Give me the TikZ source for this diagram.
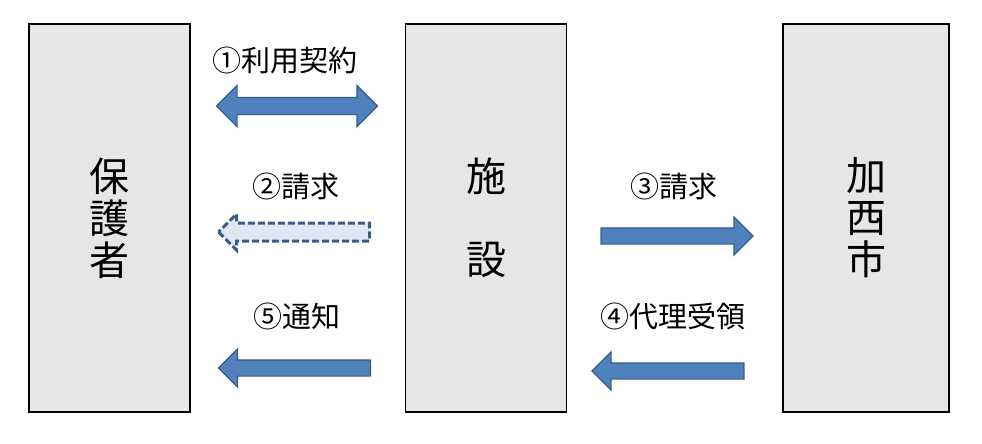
\documentclass[tikz,border=0pt]{standalone}
\usepackage{fontspec}
\newfontfamily\cjk{Noto Sans CJK JP}
\usetikzlibrary{shapes.arrows}
\definecolor{boxGray}{RGB}{230,230,230}
\definecolor{arrowBlue}{RGB}{79,129,189}
\definecolor{arrowEdge}{RGB}{56,93,138}
\definecolor{arrowPale}{RGB}{221,232,244}

\tikzset{
  partybox/.style={draw=black, line width=1.5pt, fill=boxGray, minimum width=161pt,
    minimum height=388pt, inner sep=0pt, align=center, font=\cjk\fontsize{40}{42}\selectfont},
  steplabel/.style={font=\cjk\fontsize{29}{32}\selectfont},
  blockarrow/.style={single arrow, draw=arrowEdge, fill=arrowBlue, line width=1.2pt,
    inner xsep=0pt, inner ysep=7.5pt, single arrow head extend=11pt, minimum height=#1},
  twowayarrow/.style={double arrow, draw=arrowEdge, fill=arrowBlue, line width=1.2pt,
    inner xsep=0pt, inner ysep=8pt, double arrow head extend=12pt, minimum height=#1},
  pendingarrow/.style={blockarrow=#1, draw=arrowEdge, fill=arrowPale, line width=3pt,
    dash pattern=on 7pt off 3pt, single arrow head extend=9pt}
}

\begin{document}
\begin{tikzpicture}[x=1pt, y=-1pt]
  \useasboundingbox (0,0) rectangle (982,444);

  % the three parties
  \node[partybox] (parent) at (109.5,218) {保\\護\\者};
  \node[partybox] (facility) at (486,218) {施\\[41pt]設};
  \node[partybox, minimum width=166pt] (city) at (866,218) {加\\西\\市};

  % flows between parent and facility
  \node[steplabel] (lbl1) at (285,60) {①利用契約};
  \node[twowayarrow=161pt] (contract) at (297,106) {};
  \node[steplabel] (lbl2) at (296,186) {②請求};
  \node[pendingarrow=151pt, shape border rotate=180] (bill1) at (298.5,232) {};
  \node[steplabel] (lbl5) at (297,316) {⑤通知};
  \node[blockarrow=152pt, shape border rotate=180] (notice) at (298.5,368) {};

  % flows between facility and city
  \node[steplabel] (lbl3) at (674,186) {③請求};
  \node[blockarrow=152pt] (bill2) at (673,236) {};
  \node[steplabel] (lbl4) at (673,316) {④代理受領};
  \node[blockarrow=152pt, shape border rotate=180] (receipt) at (672,371) {};
\end{tikzpicture}
\end{document}
